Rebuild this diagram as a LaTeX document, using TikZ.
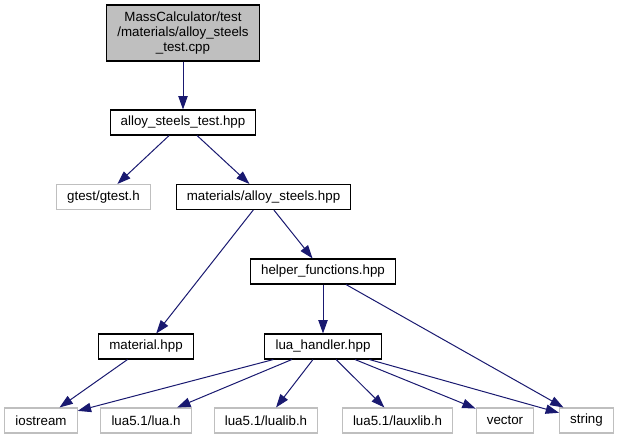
\documentclass[tikz,border=0pt]{standalone}
\usepackage{fontspec}
\setmainfont{Liberation Sans}
\usetikzlibrary{arrows.meta}
\definecolor{dxblue}{HTML}{191970}
\definecolor{dxgray}{HTML}{BFBFBF}
\begin{document}
\begin{tikzpicture}[x=0.75pt, y=-0.75pt,
    file/.style={draw=black, fill=white, line width=0.8pt, inner xsep=8pt, inner ysep=2pt,
      minimum height=18.75pt, font=\fontsize{10}{11}\selectfont},
    leaf/.style={file, draw=dxgray},
    incl/.style={draw=dxblue, line width=0.75pt, -{Triangle[length=10pt, width=7pt]}}]
  \useasboundingbox (0,0) rectangle (619,440);

  % Source file
  \node[file, fill=dxgray, align=center, minimum height=42pt] (src) at (183,33)
    {MassCalculator/test\\/materials/alloy\_steels\\\_test.cpp};

  % Project headers
  \node[file] (ast) at (183,122.5) {alloy\_steels\_test.hpp};
  \node[file] (mat) at (263.5,197) {materials/alloy\_steels.hpp};
  \node[file] (help) at (323,271.5) {helper\_functions.hpp};
  \node[file] (matl) at (146,346.5) {material.hpp};
  \node[file] (lua) at (323,346.5) {lua\_handler.hpp};

  % External headers
  \node[leaf] (gtest) at (103.5,197) {gtest/gtest.h};
  \foreach \n/\x/\t in {ios/41/{iostream}, luah/146/{lua5.1/lua.h}, lualib/266/{lua5.1/lualib.h},
      lauxlib/397.5/{lua5.1/lauxlib.h}, vec/505/{vector}, str/586.5/{string}} {
    \node[leaf] (\n) at (\x,420.5) {\t};
  }

  % Includes
  \draw[incl] (src) -- (ast);
  \draw[incl] (ast) -- (gtest);
  \draw[incl] (ast) -- (mat);
  \draw[incl] (mat) -- (matl);
  \draw[incl] (mat) -- (help);
  \draw[incl] (help) -- (lua);
  \draw[incl] (help) -- (str);
  \draw[incl] (matl) -- (ios);
  \foreach \t in {ios, luah, lualib, lauxlib, vec, str} {
    \draw[incl] (lua) -- (\t);
  }
\end{tikzpicture}
\end{document}
